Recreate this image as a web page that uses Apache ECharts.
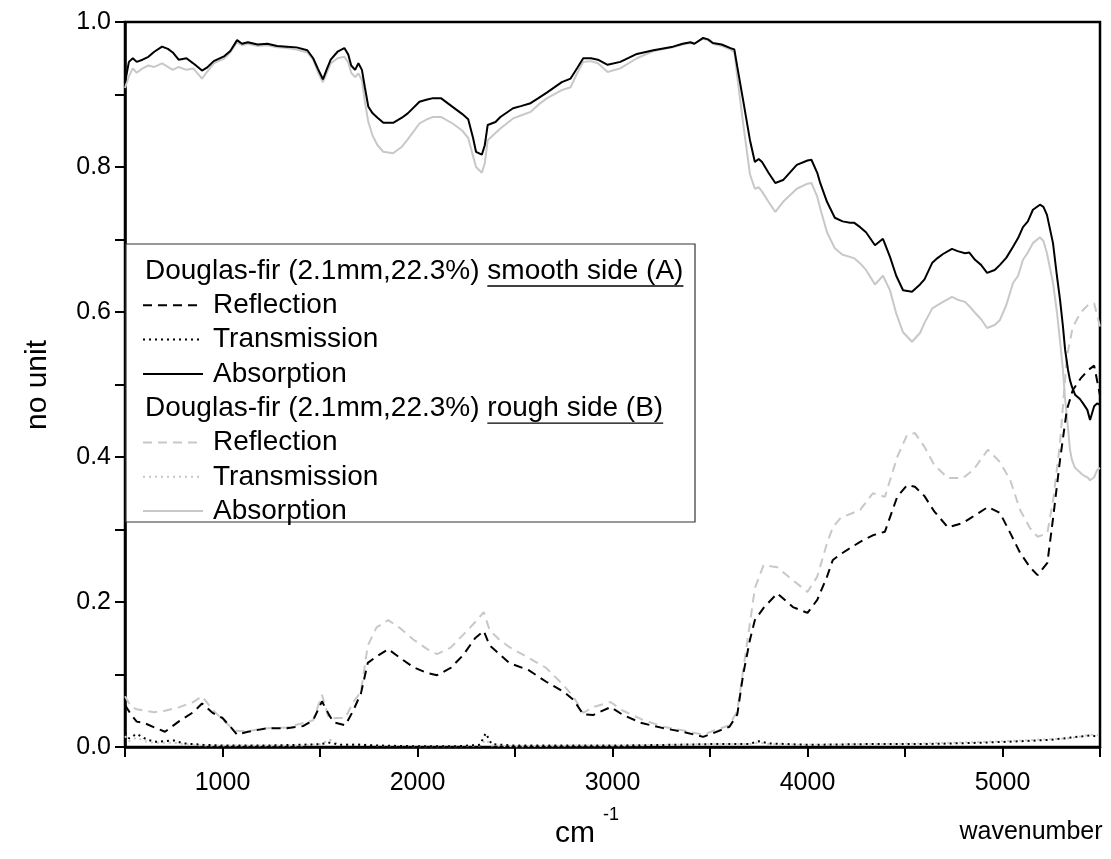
<!DOCTYPE html>
<html>
<head>
<meta charset="utf-8">
<script src="https://cdn.jsdelivr.net/npm/echarts@6/dist/echarts.min.js"></script>
<style>
html,body{margin:0;padding:0;background:#fff;}
#c{width:1111px;height:859px;}
</style>
</head>
<body>
<div id="c"></div>
<script>
// Absorption (solid) : wavenumber grid and values
const absWn = [500,520,540,560,590,620,650,690,720,745,775,815,850,895,920,955,1010,1040,1075,1100,1130,1180,1230,1280,1330,1380,1435,1465,1490,1515,1535,1555,1590,1625,1645,1660,1680,1697,1715,1730,1748,1770,1795,1825,1875,1920,1950,2010,2050,2080,2120,2180,2230,2260,2285,2300,2330,2345,2360,2400,2425,2490,2530,2580,2620,2665,2740,2785,2820,2850,2890,2925,2975,3040,3125,3210,3310,3360,3400,3420,3465,3490,3515,3560,3605,3625,3640,3670,3705,3730,3750,3767,3800,3835,3875,3945,4000,4020,4050,4065,4100,4140,4180,4218,4240,4270,4300,4346,4387,4423,4455,4490,4536,4577,4600,4640,4665,4695,4741,4770,4808,4830,4859,4890,4921,4960,4987,5020,5054,5080,5105,5130,5156,5192,5210,5228,5259,5279,5295,5310,5321,5336,5346,5356,5372,5397,5413,5435,5449,5470,5485,5500];
const absA = [0.916,0.945,0.950,0.945,0.948,0.952,0.959,0.966,0.963,0.958,0.948,0.950,0.943,0.933,0.937,0.946,0.953,0.960,0.975,0.970,0.972,0.969,0.970,0.967,0.966,0.965,0.961,0.950,0.935,0.921,0.935,0.948,0.959,0.964,0.955,0.940,0.934,0.943,0.934,0.910,0.883,0.874,0.868,0.861,0.861,0.868,0.874,0.890,0.893,0.895,0.895,0.883,0.873,0.866,0.840,0.821,0.817,0.830,0.858,0.862,0.869,0.881,0.884,0.888,0.895,0.903,0.917,0.922,0.937,0.950,0.950,0.948,0.941,0.945,0.956,0.961,0.966,0.970,0.972,0.970,0.978,0.976,0.971,0.969,0.964,0.962,0.938,0.892,0.837,0.807,0.811,0.807,0.792,0.778,0.782,0.803,0.809,0.810,0.792,0.778,0.752,0.730,0.725,0.723,0.723,0.717,0.710,0.692,0.701,0.676,0.650,0.630,0.628,0.638,0.645,0.668,0.674,0.680,0.687,0.684,0.681,0.682,0.672,0.665,0.654,0.658,0.665,0.675,0.690,0.702,0.717,0.725,0.741,0.748,0.745,0.734,0.695,0.650,0.617,0.580,0.548,0.520,0.506,0.497,0.486,0.480,0.474,0.465,0.451,0.470,0.474,0.472];
const absB = [0.909,0.925,0.936,0.930,0.936,0.940,0.938,0.943,0.938,0.934,0.938,0.934,0.936,0.922,0.931,0.943,0.950,0.958,0.972,0.968,0.970,0.967,0.968,0.965,0.964,0.962,0.958,0.948,0.930,0.917,0.930,0.943,0.950,0.952,0.944,0.930,0.924,0.929,0.920,0.890,0.862,0.843,0.830,0.821,0.819,0.828,0.838,0.860,0.866,0.869,0.869,0.860,0.850,0.840,0.815,0.800,0.792,0.805,0.837,0.847,0.853,0.867,0.871,0.876,0.886,0.895,0.906,0.910,0.930,0.945,0.946,0.943,0.931,0.936,0.950,0.960,0.965,0.969,0.971,0.970,0.977,0.975,0.970,0.967,0.962,0.958,0.924,0.860,0.790,0.770,0.772,0.766,0.752,0.738,0.752,0.770,0.777,0.778,0.759,0.743,0.710,0.688,0.679,0.676,0.674,0.667,0.658,0.638,0.650,0.630,0.598,0.572,0.559,0.571,0.585,0.605,0.609,0.614,0.621,0.617,0.614,0.608,0.599,0.590,0.578,0.582,0.589,0.610,0.640,0.650,0.672,0.682,0.695,0.703,0.698,0.681,0.640,0.600,0.560,0.520,0.480,0.440,0.410,0.396,0.385,0.379,0.375,0.372,0.368,0.372,0.382,0.385];

// Reflection (dashed)
const refWn = [500,530,560,600,650,705,780,850,895,950,1000,1040,1075,1130,1230,1330,1415,1465,1510,1545,1570,1630,1670,1710,1745,1790,1850,1910,1980,2050,2100,2170,2235,2295,2340,2370,2420,2470,2570,2660,2750,2800,2850,2900,2990,3055,3150,3260,3360,3465,3515,3600,3640,3670,3705,3730,3775,3845,3925,4000,4050,4100,4130,4170,4270,4335,4397,4460,4510,4551,4600,4650,4720,4797,4850,4925,4987,5040,5090,5141,5180,5230,5260,5295,5330,5360,5400,5440,5470,5500];
const refA = [0.058,0.045,0.035,0.033,0.027,0.021,0.036,0.048,0.060,0.047,0.040,0.028,0.017,0.021,0.026,0.026,0.029,0.037,0.063,0.045,0.034,0.030,0.050,0.074,0.116,0.125,0.135,0.123,0.110,0.102,0.099,0.109,0.127,0.150,0.160,0.140,0.128,0.116,0.106,0.090,0.076,0.065,0.045,0.044,0.055,0.044,0.033,0.026,0.021,0.014,0.019,0.028,0.045,0.100,0.148,0.175,0.192,0.212,0.193,0.185,0.203,0.235,0.258,0.266,0.283,0.292,0.297,0.345,0.361,0.359,0.346,0.325,0.303,0.309,0.318,0.331,0.323,0.295,0.268,0.248,0.237,0.254,0.317,0.396,0.465,0.492,0.508,0.520,0.526,0.485];
const refB = [0.070,0.056,0.052,0.050,0.048,0.050,0.055,0.062,0.070,0.051,0.038,0.028,0.022,0.022,0.026,0.027,0.033,0.037,0.072,0.040,0.040,0.040,0.062,0.076,0.140,0.165,0.175,0.164,0.148,0.135,0.128,0.137,0.155,0.172,0.186,0.161,0.148,0.138,0.123,0.109,0.085,0.069,0.047,0.055,0.062,0.050,0.038,0.028,0.023,0.017,0.022,0.030,0.050,0.106,0.171,0.219,0.251,0.248,0.230,0.214,0.235,0.281,0.303,0.316,0.327,0.350,0.345,0.400,0.430,0.433,0.414,0.389,0.371,0.371,0.382,0.410,0.393,0.368,0.327,0.302,0.290,0.295,0.341,0.419,0.538,0.579,0.599,0.610,0.612,0.580];

// Transmission (dotted)
const trWn = [500,520,560,600,650,750,800,900,1000,1200,1400,1500,1550,1600,1700,1800,2000,2200,2320,2350,2380,2500,2800,3000,3300,3500,3700,3750,3800,4000,4300,4600,4900,5100,5250,5350,5450,5500];
const trA = [0.020,0.012,0.018,0.012,0.007,0.009,0.005,0.003,0.002,0.002,0.003,0.004,0.006,0.003,0.003,0.002,0.001,0.001,0.003,0.019,0.004,0.002,0.002,0.002,0.003,0.004,0.004,0.008,0.005,0.003,0.004,0.004,0.006,0.008,0.010,0.013,0.016,0.014];
const trB = [0.015,0.008,0.013,0.008,0.006,0.006,0.004,0.002,0.002,0.002,0.002,0.004,0.010,0.003,0.004,0.002,0.001,0.001,0.002,0.010,0.002,0.001,0.002,0.002,0.003,0.004,0.004,0.006,0.004,0.003,0.004,0.005,0.007,0.009,0.011,0.012,0.017,0.016];

const xTicks = [1000,2000,3000,4000,5000];
const yTicks = [0.0,0.2,0.4,0.6,0.8,1.0];
const sampleName = 'Douglas-fir (2.1mm,22.3%) ';
const sideA = 'smooth side (A)';
const sideB = 'rough side (B)';
const rowNames = ['Reflection','Transmission','Absorption'];

const pairs = (xs, ys) => xs.map((x, i) => [x, ys[i]]);
const BLACK = '#000000', GREY = '#c8c8c8';
const FONT = '"Liberation Sans", Arial, sans-serif';
const DASH = [9, 6], DOT = [2, 4];

const chart = echarts.init(document.getElementById('c'), null, {renderer: 'canvas'});

function mkSeries(name, xs, ys, color, type) {
  return {
    name: name, type: 'line', data: pairs(xs, ys), showSymbol: false, symbol: 'none',
    lineStyle: {color: color, width: 2, type: type}, animation: false, z: color === BLACK ? 3 : 2
  };
}

// legend graphic
const ctx = document.createElement('canvas').getContext('2d');
const LFS = 28;
ctx.font = LFS + 'px ' + FONT;
const nameW = ctx.measureText(sampleName).width;
const lgX = 126, lgY = 244, lgW = 569, lgH = 278;
const tx = 145, rowY0 = 271, rowStep = 34.3;
const gfx = [{type: 'rect', shape: {x: lgX, y: lgY, width: lgW, height: lgH},
  style: {fill: '#fff', stroke: '#333', lineWidth: 1.2}, z: 10}];
function header(y, side) {
  gfx.push({type: 'text', x: tx, y: y, style: {text: sampleName, font: LFS + 'px ' + FONT, fill: '#000', textVerticalAlign: 'middle'}, z: 11});
  gfx.push({type: 'text', x: tx + nameW, y: y, style: {text: side, font: LFS + 'px ' + FONT, fill: '#000', textVerticalAlign: 'middle'}, z: 11});
  const w = ctx.measureText(side).width;
  gfx.push({type: 'line', shape: {x1: tx + nameW, y1: y + 15, x2: tx + nameW + w, y2: y + 15}, style: {stroke: '#000', lineWidth: 1.3}, z: 11});
}
function row(y, label, color, dash) {
  gfx.push({type: 'line', shape: {x1: 143, y1: y, x2: 203, y2: y}, style: {stroke: color, lineWidth: 2, lineDash: dash}, z: 11});
  gfx.push({type: 'text', x: 213, y: y, style: {text: label, font: LFS + 'px ' + FONT, fill: '#000', textVerticalAlign: 'middle'}, z: 11});
}
header(rowY0, sideA);
row(rowY0 + rowStep, rowNames[0], BLACK, DASH);
row(rowY0 + 2 * rowStep, rowNames[1], BLACK, DOT);
row(rowY0 + 3 * rowStep, rowNames[2], BLACK, null);
header(rowY0 + 4 * rowStep, sideB);
row(rowY0 + 5 * rowStep, rowNames[0], GREY, DASH);
row(rowY0 + 6 * rowStep, rowNames[1], GREY, DOT);
row(rowY0 + 7 * rowStep, rowNames[2], GREY, null);

// axis titles
gfx.push({type: 'text', x: 38, y: 385, rotation: Math.PI / 2,
  style: {text: 'no unit', font: '30px ' + FONT, fill: '#000', textAlign: 'center', textVerticalAlign: 'middle'}});
gfx.push({type: 'text', x: 1031, y: 832,
  style: {text: 'wavenumber', font: '25px ' + FONT, fill: '#000', textAlign: 'center', textVerticalAlign: 'middle'}});
gfx.push({type: 'text', x: 555, y: 834,
  style: {text: 'cm', font: '30px ' + FONT, fill: '#000', textAlign: 'left', textVerticalAlign: 'middle'}});
gfx.push({type: 'text', x: 603, y: 815,
  style: {text: '-1', font: '18px ' + FONT, fill: '#000', textAlign: 'left', textVerticalAlign: 'middle'}});

const axisLine = {show: true, lineStyle: {color: '#000', width: 2.5}};
chart.setOption({
  animation: false,
  backgroundColor: '#fff',
  grid: {left: 125, right: 11, top: 22, bottom: 112, show: true, borderColor: '#000', borderWidth: 2.5, backgroundColor: 'transparent'},
  xAxis: {
    type: 'value', min: 500, max: 5500, interval: 500,
    axisLine: axisLine,
    axisTick: {show: true, inside: false, length: 10, lineStyle: {color: '#000', width: 2}},
    splitLine: {show: false},
    axisLabel: {
      margin: 24, color: '#000', fontSize: 25, fontFamily: FONT,
      formatter: v => (xTicks.indexOf(v) >= 0 ? String(v) : '')
    }
  },
  yAxis: {
    type: 'value', min: 0, max: 1, interval: 0.1,
    axisLine: axisLine,
    axisTick: {show: true, inside: false, length: 10, lineStyle: {color: '#000', width: 2}},
    splitLine: {show: false},
    axisLabel: {
      margin: 14, color: '#000', fontSize: 25, fontFamily: FONT,
      formatter: v => {
        const r = Math.round(v * 10) / 10;
        return yTicks.some(t => Math.abs(t - r) < 1e-9) ? r.toFixed(1) : '';
      }
    }
  },
  series: [
    mkSeries('B Absorption', absWn, absB, GREY, 'solid'),
    mkSeries('B Reflection', refWn, refB, GREY, DASH),
    mkSeries('B Transmission', trWn, trB, GREY, DOT),
    mkSeries('A Absorption', absWn, absA, BLACK, 'solid'),
    mkSeries('A Reflection', refWn, refA, BLACK, DASH),
    mkSeries('A Transmission', trWn, trA, BLACK, DOT)
  ],
  graphic: gfx
});
</script>
</body>
</html>
